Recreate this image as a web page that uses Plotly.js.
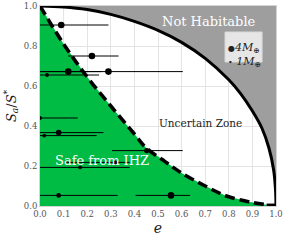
<!DOCTYPE html>
<html><head><meta charset="utf-8">
<script src="https://cdn.plot.ly/plotly-3.0.1.min.js"></script>
<style>html,body{margin:0;padding:0;background:#fff}#chart{width:288px;height:240px}</style>
</head><body><div id="chart"></div>
<script>
// Outer boundary (Not Habitable)
const outerE = [0, 0.1, 0.2, 0.3, 0.4, 0.5, 0.6, 0.7, 0.8, 0.85, 0.9, 0.94, 0.97, 0.99, 0.998, 1.0];
const outerV = [1.0, 0.995, 0.982, 0.958, 0.923, 0.878, 0.818, 0.738, 0.631, 0.562, 0.475, 0.39, 0.29, 0.18, 0.08, 0.0];
// Dashed boundary (Safe from IHZ)
const dashE = [0, 0.1, 0.2, 0.3, 0.4, 0.45, 0.53, 0.6, 0.7, 0.79, 0.89, 0.96];
const dashV = [1.0, 0.81, 0.645, 0.5, 0.36, 0.29, 0.222, 0.165, 0.1, 0.05, 0.02, 0.006];
const floorE = [0.96, 1.0];
const floorV = [0.006, 0.006];
// Planets: eccentricity, flux ratio, error minus/plus, mass (Earth masses)
const planetE     = [0.09, 0.22, 0.12, 0.29, 0.03, 0.0, 0.079, 0.018, 0.452, 0.17, 0.32, 0.079, 0.555];
const planetV     = [0.905, 0.75, 0.672, 0.672, 0.655, 0.44, 0.367, 0.352, 0.277, 0.193, 0.218, 0.053, 0.053];
const planetErrM  = [0.09, 0.10, 0.12, 0.29, 0.03, 0.0, 0.079, 0.018, 0.147, 0.17, 0.21, 0.079, 0.15];
const planetErrP  = [0.20, 0.113, 0.14, 0.315, 0.22, 0.16, 0.19, 0.222, 0.153, 0.21, 0.06, 0.25, 0.081];
const planetMass  = [4, 4, 4, 4, 1, 1, 3, 1, 2.5, 1, 1, 2, 4];
const xTicks = [0, 0.1, 0.2, 0.3, 0.4, 0.5, 0.6, 0.7, 0.8, 0.9, 1.0];
const yTicks = [0, 0.2, 0.4, 0.6, 0.8, 1.0];

const serif = 'DejaVu Serif';
const sizes = planetMass.map(m => 2.8 + 0.95 * m);

const traces = [
  {x: outerE.concat([1]), y: outerV.concat([1]), mode: 'none', fill: 'toself',
   fillcolor: 'rgb(158,158,158)', hoverinfo: 'skip', showlegend: false},
  {x: [0].concat(dashE).concat([dashE[dashE.length-1], 0]), y: [0].concat(dashV).concat([0, 0]),
   mode: 'none', fill: 'toself', fillcolor: 'rgb(0,187,68)', hoverinfo: 'skip', showlegend: false},
  {x: outerE, y: outerV, mode: 'lines', line: {color: '#000', width: 3, shape: 'spline'}, showlegend: false},
  {x: dashE, y: dashV, mode: 'lines', line: {color: '#000', width: 3.6, dash: '10px,5px', shape: 'spline'}, showlegend: false},
  {x: floorE, y: floorV, mode: 'lines', line: {color: '#000', width: 2.5}, showlegend: false},
  {x: planetE, y: planetV, mode: 'markers', cliponaxis: true,
   marker: {color: '#000', size: sizes, opacity: 1, line: {width: 0}},
   error_x: {type: 'data', symmetric: false, array: planetErrP, arrayminus: planetErrM,
             color: '#000', thickness: 1, width: 0},
   showlegend: false}
];

const axisCommon = {
  range: [0, 1], showgrid: true, gridcolor: '#e4e4e4', gridwidth: 1, zeroline: false,
  showline: true, linecolor: '#d4d4d4', linewidth: 1, mirror: true, ticks: '',
  tickfont: {family: serif, size: 8.5, color: '#555'}, fixedrange: true
};

const layout = {
  width: 288, height: 240,
  margin: {l: 40, r: 12, t: 6, b: 34},
  paper_bgcolor: '#fff', plot_bgcolor: '#fff',
  showlegend: false,
  xaxis: Object.assign({}, axisCommon, {tickvals: xTicks, ticktext: xTicks.map(v => v.toFixed(1)),
    title: {text: '<i>e</i>', font: {family: serif, size: 14, color: '#222'}, standoff: 4}}),
  yaxis: Object.assign({}, axisCommon, {tickvals: yTicks, ticktext: yTicks.map(v => v.toFixed(1)),
    title: {text: '<i>S<sub>a</sub></i>/<i>S</i><sup>*</sup>', font: {family: serif, size: 13, color: '#222'}, standoff: 4}}),
  shapes: [
    {type: 'rect', xref: 'paper', yref: 'paper', x0: 0.784, x1: 0.941, y0: 0.72, y1: 0.87,
     fillcolor: '#e6e6e6', line: {color: '#d8d8d8', width: 1}}
  ],
  annotations: [
    {x: 0.716, y: 0.921, xref: 'x', yref: 'y', text: 'Not Habitable', showarrow: false,
     font: {family: serif, size: 13, color: '#fff'}},
    {x: 0.68, y: 0.417, xref: 'x', yref: 'y', text: 'Uncertain Zone', showarrow: false,
     font: {family: serif, size: 10.5, color: '#222'}},
    {x: 0.263, y: 0.227, xref: 'x', yref: 'y', text: 'Safe from IHZ', showarrow: false,
     font: {family: serif, size: 13, color: '#fff'}},
    {x: 0.79, y: 0.835, xref: 'paper', yref: 'paper', xanchor: 'left', showarrow: false,
     text: '<span style="font-size:8px">●</span><i>4M</i><sub>⊕</sub>', font: {family: serif, size: 11, color: '#222'}},
    {x: 0.79, y: 0.765, xref: 'paper', yref: 'paper', xanchor: 'left', showarrow: false,
     text: '<span style="font-size:8px">•</span> <i>1M</i><sub>⊕</sub>', font: {family: serif, size: 11, color: '#222'}}
  ]
};

Plotly.newPlot('chart', traces, layout, {staticPlot: true, displayModeBar: false});
</script></body></html>
